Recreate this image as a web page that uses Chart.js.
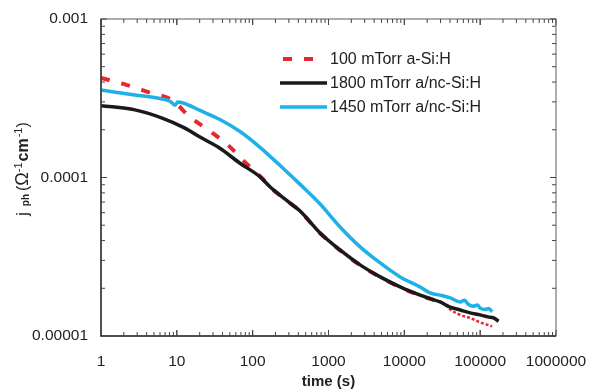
<!DOCTYPE html>
<html>
<head>
<meta charset="utf-8">
<script src="https://cdn.jsdelivr.net/npm/chart.js@4"></script>
<style>
  html, body { margin: 0; padding: 0; background: #fff; }
  canvas { display: block; }
</style>
</head>
<body>
<canvas id="jphChart" width="589" height="392"></canvas>
<script>
// ── Data ────────────────────────────────────────────────────────────────────
const timeTicks = [1, 10, 100, 1000, 10000, 100000, 1000000];
const jTicks    = [0.00001, 0.0001, 0.001];

const labels = ['100 mTorr a-Si:H', '1800 mTorr a/nc-Si:H', '1450 mTorr a/nc-Si:H'];

// 100 mTorr a-Si:H
const aSiTime = [1, 2.2, 4.2, 8.6, 14.9, 25.8, 46, 79, 133, 170, 311, 422, 775, 1420, 2610, 4800,
                 8800, 16150, 25000, 35000, 40200, 54500, 73800, 100000, 116000, 144000];
const aSiJ    = [4.25e-4, 3.83e-4, 3.46e-4, 3.08e-4, 2.41e-4, 2.0e-4, 1.62e-4, 1.25e-4, 9.9e-5,
                 8.7e-5, 6.9e-5, 6.12e-5, 4.45e-5, 3.47e-5, 2.80e-5, 2.35e-5, 2.03e-5, 1.80e-5,
                 1.68e-5, 1.57e-5, 1.47e-5, 1.36e-5, 1.30e-5, 1.22e-5, 1.19e-5, 1.15e-5];

// 1800 mTorr a/nc-Si:H
const nc1800Time = [1, 2.8, 6.4, 12.8, 20.2, 37, 68, 125, 170, 311, 422, 775, 1420, 2610, 4800,
                    8800, 16150, 21900, 29700, 40200, 54500, 73800, 100000, 127000, 150000, 175000];
const nc1800J    = [2.84e-4, 2.67e-4, 2.37e-4, 2.05e-4, 1.80e-4, 1.53e-4, 1.23e-4, 1.01e-4, 8.71e-5,
                    6.9e-5, 6.15e-5, 4.47e-5, 3.49e-5, 2.81e-5, 2.36e-5, 2.04e-5, 1.81e-5, 1.72e-5,
                    1.64e-5, 1.52e-5, 1.46e-5, 1.40e-5, 1.36e-5, 1.32e-5, 1.30e-5, 1.24e-5];

// 1450 mTorr a/nc-Si:H
const nc1450Time = [1, 2.8, 6.4, 8.1, 9.5, 10.3, 12.1, 20.2, 37, 68, 125, 230, 422, 775, 1420, 2610,
                    4800, 8800, 16150, 21900, 29700, 40200, 54500, 62000, 70000, 81000, 92000,
                    100000, 116000, 130000, 144000];
const nc1450J    = [3.56e-4, 3.32e-4, 3.13e-4, 3.03e-4, 2.86e-4, 2.99e-4, 2.95e-4, 2.65e-4, 2.32e-4,
                    1.95e-4, 1.55e-4, 1.19e-4, 9.05e-5, 6.8e-5, 4.87e-5, 3.65e-5, 2.89e-5, 2.36e-5,
                    2.04e-5, 1.87e-5, 1.81e-5, 1.74e-5, 1.64e-5, 1.68e-5, 1.58e-5, 1.54e-5, 1.57e-5,
                    1.50e-5, 1.47e-5, 1.49e-5, 1.42e-5];

const toPoints = (xs, ys) => xs.map((x, i) => ({ x: x, y: ys[i] }));

const FONT = '"Liberation Sans", Arial, Helvetica, sans-serif';
Chart.defaults.font.family = FONT;
Chart.defaults.color = '#222';

// ── Frame, inward ticks, legend and y title ─────────────────────────────────
const decorations = {
  id: 'decorations',
  afterDraw(chart) {
    const { ctx, chartArea: a, scales } = chart;
    const xs = scales.x, ys = scales.y;
    ctx.save();

    // frame
    ctx.lineWidth = 1.2;
    ctx.strokeStyle = '#777';
    ctx.strokeRect(a.left, a.top, a.right - a.left, a.bottom - a.top);
    ctx.strokeStyle = '#333';
    ctx.lineWidth = 1.5;
    ctx.beginPath();
    ctx.moveTo(a.left, a.top);
    ctx.lineTo(a.left, a.bottom);
    ctx.lineTo(a.right, a.bottom);
    ctx.stroke();

    // inward log ticks on all four sides
    ctx.lineWidth = 1;
    ctx.strokeStyle = '#444';
    ctx.beginPath();
    for (let d = 0; d < timeTicks.length - 1; d++) {
      for (let m = 1; m <= 10; m++) {
        const px = xs.getPixelForValue(timeTicks[d] * m);
        const len = (m === 1 || m === 10) ? 6 : 4;
        ctx.moveTo(px, a.bottom); ctx.lineTo(px, a.bottom - len);
        ctx.moveTo(px, a.top);    ctx.lineTo(px, a.top + len);
      }
    }
    for (let d = 0; d < jTicks.length - 1; d++) {
      for (let m = 1; m <= 10; m++) {
        const py = ys.getPixelForValue(jTicks[d] * m);
        const len = (m === 1 || m === 10) ? 6 : 4;
        ctx.moveTo(a.left, py);  ctx.lineTo(a.left + len, py);
        ctx.moveTo(a.right, py); ctx.lineTo(a.right - len, py);
      }
    }
    ctx.stroke();

    // legend inside the plot
    const ly0 = 59, lstep = 24;
    chart.data.datasets.forEach((ds, i) => {
      const y = ly0 + i * lstep;
      ctx.beginPath();
      ctx.setLineDash(ds.borderDash || []);
      ctx.lineWidth = ds.borderWidth;
      ctx.strokeStyle = ds.borderColor;
      if (ds.borderDash) { ctx.moveTo(283, y); ctx.lineTo(314, y); }
      else { ctx.moveTo(280, y); ctx.lineTo(327, y); }
      ctx.stroke();
      ctx.setLineDash([]);
      ctx.fillStyle = '#222';
      ctx.font = '16px ' + FONT;
      ctx.textBaseline = 'middle';
      ctx.textAlign = 'left';
      ctx.fillText(ds.label, 330, y + 1);
    });

    // y axis title:  j ph (Ω-1 cm-1) with sub/superscripts
    const parts = [
      { t: 'j',  f: '16px ' + FONT,      dy: 0,  gap: 6 },
      { t: 'ph', f: 'bold 10px ' + FONT, dy: 1,  gap: 3 },
      { t: '(',  f: '16px ' + FONT,      dy: 0,  gap: 0 },
      { t: 'Ω',  f: '18px ' + FONT,      dy: 0,  gap: 0 },
      { t: '-1', f: '11px ' + FONT,      dy: -6, gap: 1 },
      { t: 'cm', f: 'bold 16px ' + FONT, dy: 0,  gap: 1 },
      { t: '-1', f: '11px ' + FONT,      dy: -6, gap: 0 },
      { t: ')',  f: '16px ' + FONT,      dy: 0,  gap: 0 }
    ];
    let total = 0;
    parts.forEach(p => { ctx.font = p.f; p.w = ctx.measureText(p.t).width; total += p.w + p.gap; });
    ctx.translate(28, 169);
    ctx.rotate(-Math.PI / 2);
    ctx.textBaseline = 'alphabetic';
    ctx.textAlign = 'left';
    ctx.fillStyle = '#222';
    let x = -total / 2;
    parts.forEach(p => { ctx.font = p.f; ctx.fillText(p.t, x, p.dy); x += p.w + p.gap; });

    ctx.restore();
  }
};

// ── Chart ───────────────────────────────────────────────────────────────────
const ctx = document.getElementById('jphChart').getContext('2d');
const jphChart = new Chart(ctx, {
  type: 'line',
  data: {
    datasets: [{
      label: labels[0],
      data: toPoints(aSiTime, aSiJ),
      borderColor: '#e8262e',
      borderWidth: 4,
      borderDash: [9, 12],
      borderCapStyle: 'butt',
      pointRadius: 0,
      cubicInterpolationMode: 'monotone',
      order: 3,
      segment: {
        borderDash: c => c.p0.parsed.x >= 35000 ? [3, 2] : undefined,
        borderWidth: c => c.p0.parsed.x >= 35000 ? 2.5 : undefined
      }
    }, {
      label: labels[1],
      data: toPoints(nc1800Time, nc1800J),
      borderColor: '#1a1a1a',
      borderWidth: 3.5,
      pointRadius: 0,
      cubicInterpolationMode: 'monotone',
      order: 2
    }, {
      label: labels[2],
      data: toPoints(nc1450Time, nc1450J),
      borderColor: '#1eb0e6',
      borderWidth: 3.5,
      pointRadius: 0,
      cubicInterpolationMode: 'monotone',
      order: 1
    }]
  },
  options: {
    responsive: false,
    animation: false,
    devicePixelRatio: 1,
    layout: { autoPadding: false, padding: { left: 0, right: 33, top: 19, bottom: 0 } },
    scales: {
      x: {
        type: 'logarithmic',
        min: 1,
        max: 1000000,
        afterBuildTicks: s => { s.ticks = timeTicks.map(v => ({ value: v })); },
        afterFit: s => {
          s.height = 56;
          s.paddingLeft = 0; s.paddingRight = 0; s.paddingTop = 0; s.paddingBottom = 0;
        },
        ticks: {
          callback: v => String(v),
          font: { size: 15.5 },
          color: '#222',
          padding: 16,
          maxRotation: 0,
          autoSkip: false
        },
        grid: { display: false, drawTicks: false },
        border: { display: false },
        title: {
          display: true,
          text: 'time (s)',
          font: { size: 15, weight: 'bold' },
          color: '#222',
          padding: { top: 0, bottom: 1 }
        }
      },
      y: {
        type: 'logarithmic',
        min: 0.00001,
        max: 0.001,
        afterBuildTicks: s => { s.ticks = jTicks.map(v => ({ value: v })); },
        afterFit: s => {
          s.width = 101;
          s.paddingLeft = 0; s.paddingRight = 0; s.paddingTop = 0; s.paddingBottom = 0;
        },
        ticks: {
          callback: v => String(v),
          font: { size: 15.5 },
          color: '#222',
          padding: 13
        },
        grid: { display: false, drawTicks: false },
        border: { display: false }
      }
    },
    plugins: {
      legend: { display: false },
      tooltip: { enabled: false }
    }
  },
  plugins: [decorations]
});
</script>
</body>
</html>
